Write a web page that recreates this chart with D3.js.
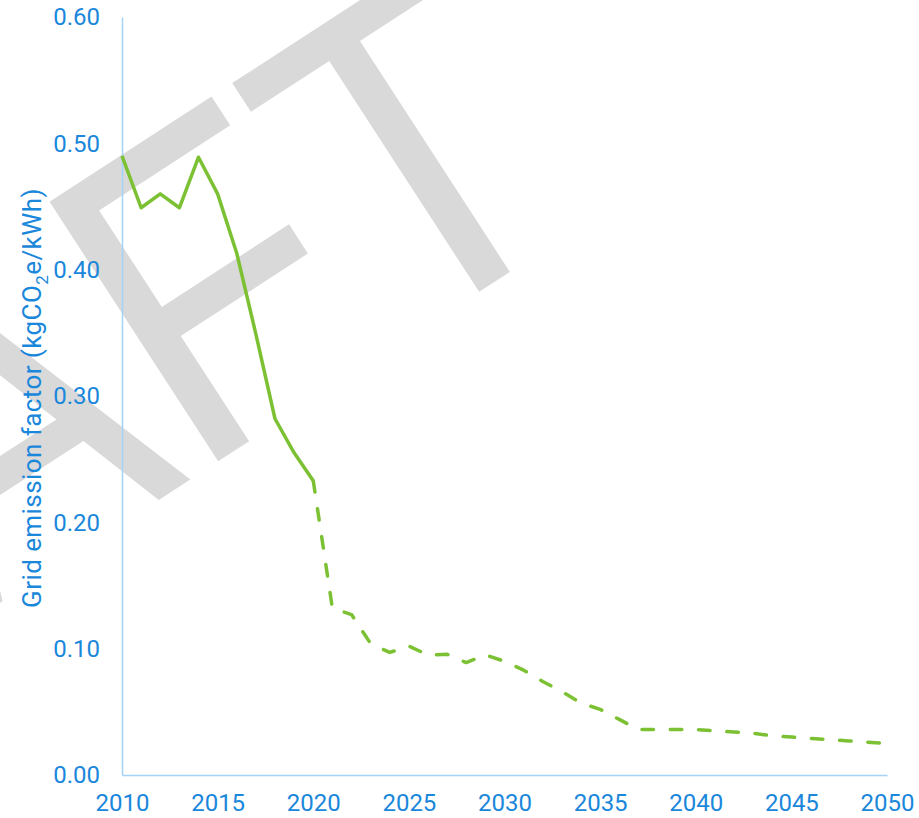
<!DOCTYPE html>
<html>
<head>
<meta charset="utf-8">
<script src="https://cdn.jsdelivr.net/npm/d3@7"></script>
<style>
  html, body { margin: 0; padding: 0; background: #fff; }
  svg { display: block; }
</style>
</head>
<body>
<div id="chart"></div>
<script>
// ---- Data ----
const years = [2010, 2011, 2012, 2013, 2014, 2015, 2016, 2017, 2018, 2019, 2020,
  2021, 2022, 2023, 2024, 2025, 2026, 2027, 2028, 2029, 2030,
  2031, 2032, 2033, 2034, 2035, 2036, 2037, 2038, 2039, 2040,
  2041, 2042, 2043, 2044, 2045, 2046, 2047, 2048, 2049, 2050];
const emissionFactor = [0.490, 0.449, 0.460, 0.449, 0.489, 0.460, 0.413, 0.349, 0.282, 0.255, 0.233,
  0.132, 0.127, 0.104, 0.097, 0.102, 0.095, 0.0955, 0.089, 0.095, 0.090,
  0.083, 0.074, 0.066, 0.057, 0.052, 0.044, 0.036, 0.036, 0.036, 0.036,
  0.035, 0.034, 0.033, 0.031, 0.030, 0.029, 0.028, 0.027, 0.026, 0.025];
const lastActualYear = 2020;
const xTickValues = [2010, 2015, 2020, 2025, 2030, 2035, 2040, 2045, 2050];
const yTickValues = [0, 0.1, 0.2, 0.3, 0.4, 0.5, 0.6];
const yAxisTitleParts = ["Grid emission factor (kgCO", "2", "e/kWh)"];
const watermarkText = "DRAFT";

// ---- Layout ----
const W = 919, H = 818;
const margin = { top: 17, right: 32, bottom: 43, left: 122 };
const textBlue = "#1a87db";
const axisBlue = "#a3d3f8";
const green = "#7cc133";

const svg = d3.select("#chart").append("svg")
  .attr("width", W).attr("height", H);

// Watermark (behind everything)
const wm = svg.append("text")
  .attr("transform", "translate(191,479) rotate(-33) scale(0.878,1)")
  .attr("font-family", "'Liberation Sans', Arial, sans-serif")
  .attr("font-size", 450)
  .attr("fill", "#d9d9d9")
  .text(watermarkText);
const off = wm.node().getSubStringLength(0, 3);
wm.attr("x", -off);

const x = d3.scaleLinear().domain([2010, 2050]).range([margin.left, W - margin.right]);
const y = d3.scaleLinear().domain([0, 0.6]).range([H - margin.bottom, margin.top]);

const font = "Roboto, 'Noto Sans', sans-serif";

// Axes
const gx = svg.append("g")
  .attr("transform", `translate(0,${H - margin.bottom})`)
  .call(d3.axisBottom(x).tickValues(xTickValues).tickFormat(d3.format("d")).tickSize(0).tickPadding(19));
gx.select(".domain").attr("stroke", axisBlue).attr("stroke-width", 1.5);
gx.selectAll("text").attr("fill", textBlue).attr("font-family", font).attr("font-size", 24);

const gy = svg.append("g")
  .attr("transform", `translate(${margin.left},0)`)
  .call(d3.axisLeft(y).tickValues(yTickValues).tickFormat(d3.format(".2f")).tickSize(0).tickPadding(22));
gy.select(".domain").attr("stroke", axisBlue).attr("stroke-width", 1.5);
gy.selectAll("text").attr("fill", textBlue).attr("font-family", font).attr("font-size", 24);

// Y axis title
const title = svg.append("text")
  .attr("text-anchor", "middle")
  .attr("fill", textBlue)
  .attr("font-family", font)
  .attr("font-size", 26);
title.append("tspan").text(yAxisTitleParts[0]);
title.append("tspan").attr("font-size", 17).attr("dy", 7).text(yAxisTitleParts[1]);
title.append("tspan").attr("dy", -7).text(yAxisTitleParts[2]);
const natural = title.node().getBBox().width;
const nChars = yAxisTitleParts.join("").length;
title.attr("letter-spacing", Math.max(0, (420 - natural) / nChars).toFixed(2));
title.attr("transform", "translate(41,398) rotate(-90)");

// Lines
const data = years.map((yr, i) => ({ year: yr, value: emissionFactor[i] }));
const line = d3.line().x(d => x(d.year)).y(d => y(d.value));

svg.append("path")
  .datum(data.filter(d => d.year <= lastActualYear))
  .attr("d", line)
  .attr("fill", "none")
  .attr("stroke", green)
  .attr("stroke-width", 3.5)
  .attr("stroke-linejoin", "round");

svg.append("path")
  .datum(data.filter(d => d.year >= lastActualYear))
  .attr("d", line)
  .attr("fill", "none")
  .attr("stroke", green)
  .attr("stroke-width", 3.5)
  .attr("stroke-linejoin", "round")
  .attr("stroke-linecap", "round")
  .attr("stroke-dasharray", "11.5,16.8");
</script>
</body>
</html>
